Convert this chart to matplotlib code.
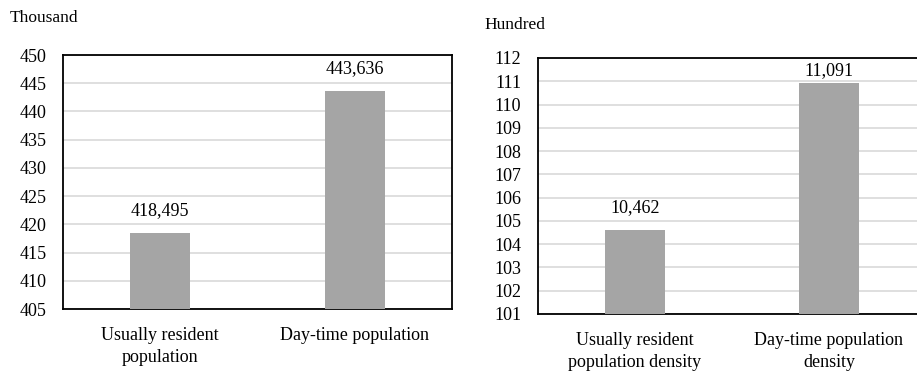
import matplotlib
matplotlib.use('Agg')
from matplotlib import pyplot as plt

plt.rcParams['font.family'] = ['Liberation Serif', 'DejaVu Serif']

pop_labels = ['Usually resident\npopulation', 'Day-time population']
pop_values = [418.495, 443.636]
pop_text = ['418,495', '443,636']
pop_ticks = list(range(405, 451, 5))

dens_labels = ['Usually resident\npopulation density', 'Day-time population\ndensity']
dens_values = [104.62, 110.91]
dens_text = ['10,462', '11,091']
dens_ticks = list(range(101, 113))

bar_color = '#a5a5a5'
grid_color = '#d9d9d9'
W, H = 917, 372
fs = 13

fig = plt.figure(figsize=(W / 100, H / 100), dpi=100)


def panel(rect, labels, values, texts, ticks, unit, unit_xy):
    ax = fig.add_axes(rect)
    x = range(len(values))
    ax.bar(x, [v - ticks[0] for v in values], bottom=ticks[0], width=0.31,
           color=bar_color, zorder=3)
    ax.set_xlim(-0.5, 1.5)
    ax.set_ylim(ticks[0], ticks[-1])
    ax.set_yticks(ticks)
    ax.set_yticklabels([str(t) for t in ticks], fontsize=fs)
    ax.set_xticks(list(x))
    ax.set_xticklabels(labels, fontsize=fs, linespacing=1.4)
    ax.tick_params(axis='y', length=0, pad=12)
    ax.tick_params(axis='x', length=0, pad=13)
    ax.grid(axis='y', color=grid_color, linewidth=1.2, zorder=0)
    for s in ax.spines.values():
        s.set_linewidth(1.3)
        s.set_color('black')
    # keep labels inside the plot box, as the original does
    top_px = rect[1] * H + rect[3] * H
    for xi, v, t in zip(x, values, texts):
        bar_px = (rect[1] + rect[3] * (v - ticks[0]) / (ticks[-1] - ticks[0])) * H
        off = min(22, top_px - 13 - bar_px)
        ax.annotate(t, (xi, v), xytext=(0, off), textcoords='offset pixels',
                    ha='center', va='center', fontsize=fs)
    fig.text(unit_xy[0] / W, 1 - unit_xy[1] / H, unit, fontsize=12.5,
             ha='left', va='center')
    return ax


panel([63 / W, 1 - 309 / H, 389 / W, 254 / H], pop_labels, pop_values,
      pop_text, pop_ticks, 'Thousand', (10, 18))
panel([538 / W, 1 - 314 / H, 388 / W, 256 / H], dens_labels, dens_values,
      dens_text, dens_ticks, 'Hundred', (484, 25))

fig.savefig('out.png', dpi=100)
